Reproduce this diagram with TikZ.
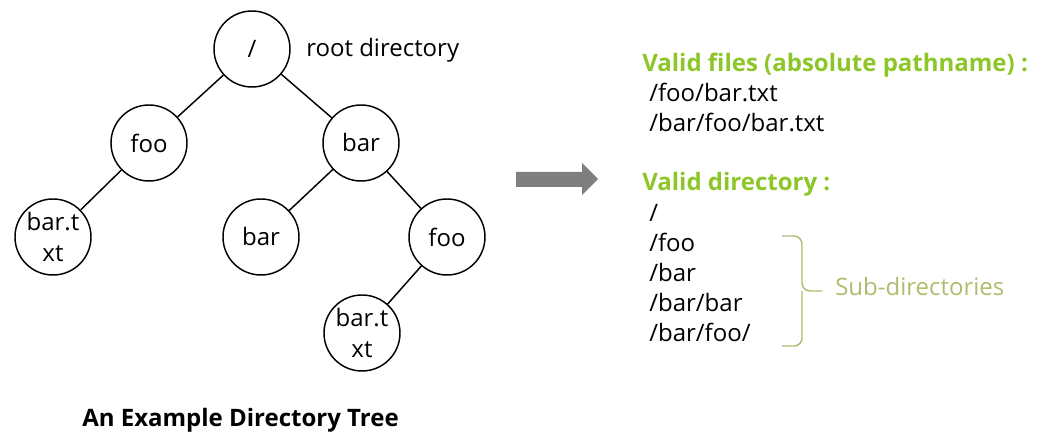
\documentclass[tikz,border=0pt]{standalone}
\usepackage{fontspec}
\setmainfont{Open Sans}
\definecolor{titlegreen}{RGB}{141,198,40}
\definecolor{subgreen}{RGB}{172,190,110}
\definecolor{arrowgray}{RGB}{127,127,127}
\newcommand{\txtsize}{\fontsize{18pt}{23pt}\selectfont}
\tikzset{
  dirnode/.style={circle, draw=black, line width=1.1pt, minimum size=57pt, inner sep=0pt, align=center, font=\txtsize},
  treeedge/.style={draw=black, line width=1.1pt},
  plain/.style={anchor=base west, inner sep=0pt, font=\txtsize, text=black},
  heading/.style={anchor=base west, inner sep=0pt, font=\txtsize\bfseries, text=titlegreen},
}
\begin{document}
\begin{tikzpicture}[x=0.75pt, y=-0.75pt]
\useasboundingbox (0,0) rectangle (1043,448);
% tree
\node[dirnode] (root) at (252,49) {/};
\node[dirnode] (foo) at (149,143) {foo};
\node[dirnode] (bar) at (361,143) {bar};
\node[dirnode] (bartxtA) at (53,237) {bar.t\\xt};
\node[dirnode] (barbar) at (261,237) {bar};
\node[dirnode] (barfoo) at (447,237) {foo};
\node[dirnode] (bartxtB) at (362,333) {bar.t\\xt};
\path[treeedge] (root) -- (foo);
\path[treeedge] (root) -- (bar);
\path[treeedge] (foo) -- (bartxtA);
\path[treeedge] (bar) -- (barbar);
\path[treeedge] (bar) -- (barfoo);
\path[treeedge] (barfoo) -- (bartxtB);
\node[plain] (rootlabel) at (306,57) {root directory};
\node[plain, font=\txtsize\bfseries] (caption) at (82,427) {An Example Directory Tree};
% arrow
\fill[arrowgray] (516,172) -- (582,172) -- (582,163) -- (598,179) -- (582,195) -- (582,187) -- (516,187) -- cycle;
% right side
\node[heading] (files) at (642,72) {Valid files (absolute pathname) :};
\node[plain] (f1) at (649,102) {/foo/bar.txt};
\node[plain] (f2) at (649,132) {/bar/foo/bar.txt};
\node[heading] (dirs) at (642,191) {Valid directory :};
\node[plain] (d1) at (649,222) {/};
\node[plain] (d2) at (649,252) {/foo};
\node[plain] (d3) at (649,282) {/bar};
\node[plain] (d4) at (649,312) {/bar/bar};
\node[plain] (d5) at (649,342) {/bar/foo/};
% brace
\coordinate (btop) at (782,236);
\coordinate (bbot) at (782,346);
\coordinate (btip) at (822,291);
\draw[subgreen, line width=1.1pt, rounded corners=6pt] (btop) -- (802,236) -- (802,291) -- (btip);
\draw[subgreen, line width=1.1pt, rounded corners=6pt] (802,291) -- (802,346) -- (bbot);
\node[plain, text=subgreen] (sub) at (835,296) {Sub-directories};
\end{tikzpicture}
\end{document}
